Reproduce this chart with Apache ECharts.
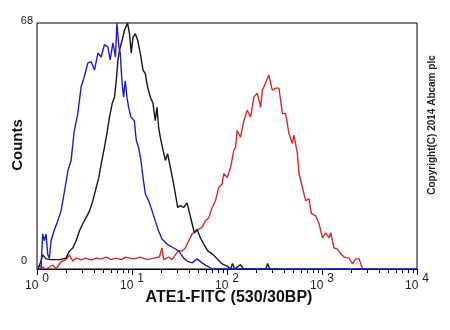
<!DOCTYPE html>
<html>
<head>
<meta charset="utf-8">
<script src="https://cdn.jsdelivr.net/npm/echarts@6/dist/echarts.min.js"></script>
<style>
  html, body { margin: 0; padding: 0; background: #fff; }
  #chart { width: 450px; height: 330px; }
</style>
</head>
<body>
<div id="chart"></div>
<script>
// FITC fluorescence is plotted in decades (log10 of intensity), counts on y.
const decadeExponents = ['0', '1', '2', '3', '4'];
const countTicks = [0, 68];
const minorMultipliers = [2, 3, 4, 5, 6, 7, 8, 9];

// [log10 intensity, count]
const unlabelled = [
  [0.000, 0], [0.042, 0], [0.060, 9.7], [0.077, 7.8], [0.095, 9.7], [0.113, 4], [0.130, 3],
  [0.148, 7.8], [0.179, 10.5], [0.218, 13.3], [0.253, 16], [0.285, 20.8], [0.324, 27],
  [0.359, 30], [0.391, 38], [0.430, 43], [0.464, 50.3], [0.496, 53], [0.535, 56.9],
  [0.570, 57.3], [0.605, 55], [0.641, 59.7], [0.675, 58.6], [0.710, 62], [0.746, 61.4],
  [0.770, 57.8], [0.799, 62.5], [0.826, 58.6], [0.841, 68], [0.862, 61.4], [0.876, 59.7],
  [0.894, 52], [0.911, 47.5], [0.929, 52], [0.947, 47.5], [0.964, 44.7], [0.989, 42],
  [1.024, 41], [1.045, 35.6], [1.069, 33.6], [1.094, 30], [1.116, 25.3], [1.140, 20.8],
  [1.175, 18.9], [1.211, 16.1], [1.245, 13.3], [1.280, 10.5], [1.316, 8.3], [1.369, 6.9],
  [1.439, 5.8], [1.491, 5], [1.544, 3], [1.580, 2.2], [1.633, 1.7], [1.685, 2.8],
  [1.738, 1.7], [1.791, 0.8], [1.844, 0], [4.000, 0]
];

const isotype = [
  [0.011, 0], [0.042, 2.2], [0.060, 3.9], [0.095, 2.8], [0.148, 2.6], [0.235, 2.6],
  [0.306, 3], [0.341, 5], [0.377, 5.8], [0.412, 7.8], [0.446, 10.5], [0.482, 12.5],
  [0.517, 14.2], [0.552, 16], [0.588, 18.9], [0.623, 22.5], [0.651, 25.3], [0.675, 29],
  [0.710, 33.6], [0.736, 37.5], [0.763, 42], [0.792, 45.8], [0.816, 47.5], [0.834, 52],
  [0.852, 57.8], [0.869, 60.6], [0.897, 63.3], [0.921, 66], [0.953, 68], [0.974, 65],
  [0.992, 59.7], [1.010, 64], [1.034, 65], [1.059, 63.3], [1.087, 59.7], [1.116, 55],
  [1.140, 54], [1.164, 50.3], [1.193, 47.5], [1.221, 45.8], [1.245, 41], [1.263, 44.7],
  [1.280, 39.2], [1.298, 36.4], [1.327, 32.8], [1.351, 30], [1.375, 31.9], [1.404, 28],
  [1.432, 24.4], [1.456, 20.8], [1.481, 17], [1.509, 17.5], [1.544, 17], [1.580, 18.3],
  [1.607, 15.3], [1.633, 12.5], [1.657, 10], [1.685, 11], [1.720, 8.6], [1.755, 6.9],
  [1.797, 5], [1.844, 4.2], [1.897, 2.8], [1.949, 1.4], [2.002, 0.8], [2.037, 0],
  [2.058, 1.5], [2.079, 0], [2.142, 1.2], [2.174, 0], [2.410, 0], [2.427, 1.5],
  [2.450, 0], [2.500, 0]
];

const ate1 = [
  [0.011, 0.8], [0.042, 0.8], [0.095, 0], [0.166, 1.1], [0.201, 0], [0.253, 2],
  [0.306, 2.6], [0.341, 3.9], [0.377, 2.2], [0.412, 3], [0.464, 2.5], [0.517, 3],
  [0.570, 2.5], [0.623, 3], [0.675, 2.8], [0.728, 3.3], [0.781, 2.6], [0.834, 3],
  [0.887, 2.6], [0.932, 3.3], [1.013, 2.8], [1.087, 3.3], [1.158, 2.6], [1.227, 3],
  [1.288, 3.3], [1.316, 5.8], [1.333, 2.6], [1.386, 3.3], [1.422, 2.6], [1.456, 3.9],
  [1.491, 5], [1.527, 5], [1.562, 5.8], [1.597, 7.8], [1.633, 9.7], [1.668, 10.3],
  [1.702, 11], [1.738, 11.5], [1.773, 13.3], [1.808, 14.2], [1.844, 17], [1.879, 18.9],
  [1.913, 22.5], [1.949, 23.5], [1.966, 26.4], [2.002, 25.3], [2.037, 28], [2.072, 32.8],
  [2.090, 33.6], [2.107, 38.3], [2.142, 36.4], [2.177, 41], [2.213, 43.9], [2.248, 42],
  [2.283, 47.5], [2.318, 48.6], [2.354, 44.7], [2.372, 49.4], [2.406, 51.4], [2.441, 53.6],
  [2.477, 49.4], [2.512, 50], [2.547, 50], [2.583, 43], [2.617, 43], [2.652, 37.5],
  [2.688, 34.7], [2.705, 37], [2.741, 31.9], [2.758, 26.4], [2.794, 22.5], [2.828, 18.9],
  [2.863, 19.4], [2.889, 15.3], [2.934, 14.7], [2.969, 12.5], [3.005, 8.6], [3.040, 10],
  [3.074, 8.6], [3.092, 10], [3.127, 5.8], [3.163, 5.5], [3.198, 4.2], [3.233, 3.3],
  [3.285, 3], [3.321, 1.4], [3.356, 2.8], [3.391, 2.8], [3.427, 0]
];

// minor tick positions: log10(k * 10^d)
const minorTicks = [];
for (let d = 0; d < decadeExponents.length - 1; d++) {
  minorMultipliers.forEach(k => minorTicks.push(d + Math.log10(k)));
}

const FONT = '"Liberation Sans", Arial, sans-serif';

const chart = echarts.init(document.getElementById('chart'), null, { renderer: 'canvas' });

function histLine(name, data, color) {
  return {
    name, type: 'line', data, showSymbol: false, symbol: 'none',
    lineStyle: { color, width: 1.4 }, animation: false, z: 3
  };
}

chart.setOption({
  animation: false,
  backgroundColor: '#fff',
  grid: {
    left: 37, right: 33, top: 23, bottom: 61,
    show: true, borderColor: '#000', borderWidth: 1, backgroundColor: 'transparent'
  },
  xAxis: {
    type: 'value', min: 0, max: 4, interval: 1, position: 'bottom',
    axisLine: { show: true, lineStyle: { color: '#000', width: 1 } },
    axisTick: { show: true, length: 6, lineStyle: { color: '#000', width: 1 } },
    splitLine: { show: false },
    axisLabel: {
      margin: 4,
      fontFamily: FONT, color: '#000',
      formatter: v => '{b|10}{s|' + decadeExponents[Math.round(v)] + '}',
      rich: {
        b: { fontSize: 12, fontFamily: FONT, color: '#222', padding: [6, 4, 0, 0] },
        s: { fontSize: 12, fontFamily: FONT, color: '#222', padding: [0, 0, 8, 0] }
      }
    }
  },
  yAxis: {
    type: 'value', min: countTicks[0], max: countTicks[1], interval: countTicks[1],
    axisLine: { show: false }, axisTick: { show: false }, splitLine: { show: false },
    axisLabel: {
      margin: 4,
      formatter: v => v === 0 ? '{lo|' + v + '}' : '{hi|' + v + '}',
      rich: {
        lo: { fontSize: 11, fontFamily: FONT, color: '#222', padding: [0, 6, 16, 0] },
        hi: { fontSize: 11, fontFamily: FONT, color: '#222', padding: [0, 0, 4, 0] }
      }
    }
  },
  graphic: [
    {
      type: 'text', x: 229, y: 298,
      style: { text: 'ATE1-FITC (530/30BP)', font: 'bold 16px ' + FONT, fill: '#111', align: 'center', verticalAlign: 'middle' }
    },
    {
      type: 'text', x: 18, y: 145, rotation: Math.PI / 2,
      style: { text: 'Counts', font: 'bold 15px ' + FONT, fill: '#111', align: 'center', verticalAlign: 'middle' }
    },
    {
      type: 'text', x: 432, y: 125, rotation: Math.PI / 2,
      style: { text: 'Copyright(C) 2014 Abcam plc', font: 'bold 10px ' + FONT, fill: '#222', align: 'center', verticalAlign: 'middle' }
    }
  ],
  series: [
    {
      // short minor tick marks below the x axis at 2..9 within each decade
      name: 'minorTicks', type: 'custom', clip: false, silent: true, z: 10,
      data: minorTicks.map(t => [t, 0]),
      renderItem: (params, api) => {
        const p = api.coord([api.value(0), 0]);
        return {
          type: 'line',
          shape: { x1: Math.round(p[0]) + 0.5, y1: p[1], x2: Math.round(p[0]) + 0.5, y2: p[1] + 4 },
          style: { stroke: '#000', lineWidth: 1 }
        };
      }
    },
    histLine('ATE1', ate1, '#e02424'),
    histLine('isotype', isotype, '#151515'),
    histLine('unlabelled', unlabelled, '#1c1cd2')
  ]
});
</script>
</body>
</html>
